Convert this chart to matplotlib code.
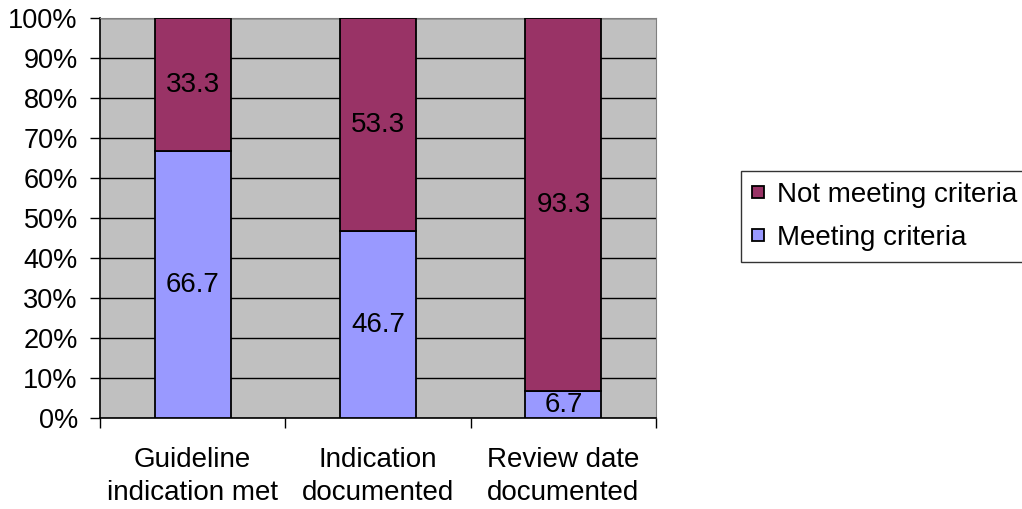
import matplotlib
matplotlib.use("Agg")
import matplotlib.pyplot as plt
from matplotlib.ticker import MultipleLocator, FuncFormatter, FixedLocator
import numpy as np

plt.rcParams['font.family'] = ['Liberation Sans', 'DejaVu Sans']

categories = ["Guideline\nindication met", "Indication\ndocumented", "Review date\ndocumented"]
meeting = [66.7, 46.7, 6.7]
not_meeting = [33.3, 53.3, 93.3]

fig = plt.figure(figsize=(10.22, 5.09), dpi=100)
ax = fig.add_axes([100/1022, 1 - 418/509, 556/1022, 400/509])
ax.set_facecolor("#C0C0C0")

x = np.arange(len(categories))
w = 0.41
b1 = ax.bar(x, meeting, w, color="#9999FF", edgecolor="black", linewidth=1.3,
            label="Meeting criteria", zorder=3)
b2 = ax.bar(x, not_meeting, w, bottom=meeting, color="#993366", edgecolor="black",
            linewidth=1.3, label="Not meeting criteria", zorder=3)

for xi, m, n in zip(x, meeting, not_meeting):
    ax.text(xi, m / 2, f"{m:.1f}", ha="center", va="center", fontsize=20, zorder=4)
    ax.text(xi, m + n / 2, f"{n:.1f}", ha="center", va="center", fontsize=20, zorder=4)

ax.set_xlim(-0.5, 2.5)
ax.set_ylim(0, 100)
ax.yaxis.set_major_locator(MultipleLocator(10))
ax.yaxis.set_major_formatter(FuncFormatter(lambda v, p: f"{int(round(v))}%"))
ax.yaxis.grid(True, color="black", linewidth=1.0, zorder=1)
ax.set_axisbelow(True)

# Category ticks sit on the boundaries; labels sit centred under each bar
ax.xaxis.set_major_locator(FixedLocator([-0.5, 0.5, 1.5, 2.5]))
ax.xaxis.set_major_formatter(FuncFormatter(lambda v, p: ""))
ax.xaxis.set_minor_locator(FixedLocator(list(x)))
ax.set_xticklabels(categories, minor=True)
ax.tick_params(axis="x", which="minor", length=0, pad=21, labelsize=20)
ax.tick_params(axis="x", which="major", length=7, width=1, direction="out")
ax.tick_params(axis="y", length=7, width=1, direction="out", labelsize=19.5, pad=9)
for lbl in ax.get_xticklabels(minor=True):
    lbl.set_linespacing(1.33)

for s in ["top", "right"]:
    ax.spines[s].set_color("#808080")
for s in ["left", "bottom"]:
    ax.spines[s].set_color("black")
    ax.spines[s].set_linewidth(1.2)

handles = [b2, b1]
leg = fig.legend(handles, ["Not meeting criteria", "Meeting criteria"],
                 loc="upper left", bbox_to_anchor=(741/1022, 1 - 171/509),
                 frameon=True, fancybox=False, edgecolor="black", fontsize=20,
                 handlelength=0.42, handleheight=0.3, handletextpad=0.48,
                 labelspacing=0.62, borderpad=0.4, borderaxespad=0)
leg.get_frame().set_linewidth(1.0)

fig.savefig("out.png", dpi=100)
